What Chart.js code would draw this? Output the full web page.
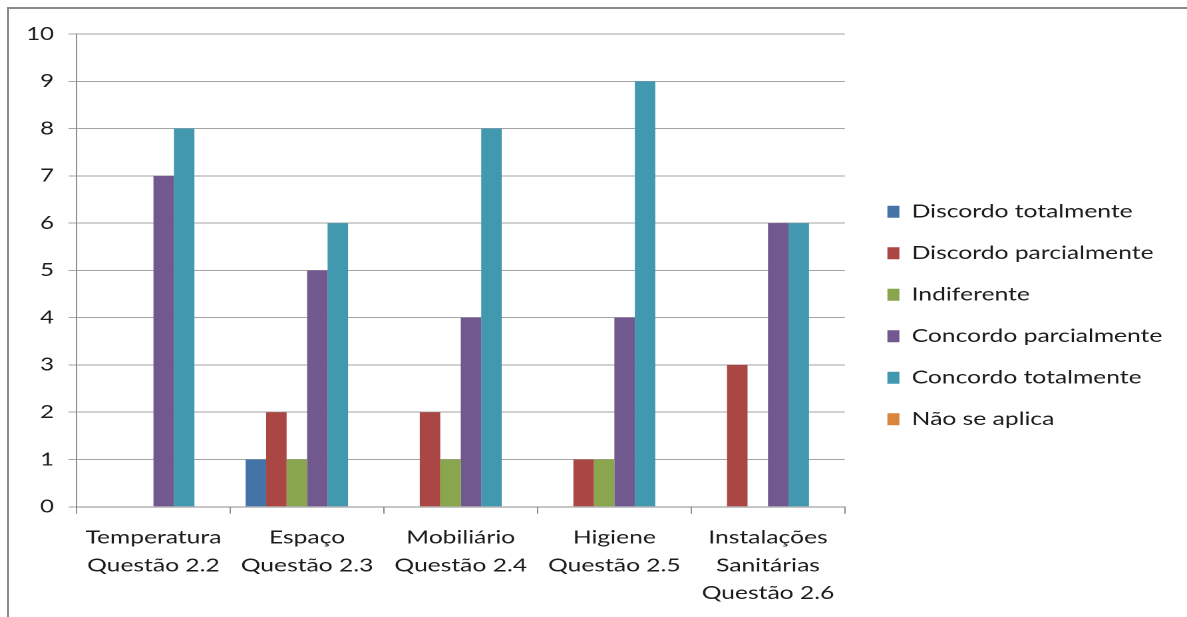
<!DOCTYPE html>
<html><head><meta charset="utf-8">
<script src="https://cdn.jsdelivr.net/npm/chart.js@4/dist/chart.umd.min.js"></script>
<style>
html,body{margin:0;padding:0;background:#fff;overflow:hidden;width:1187px;height:617px;}
#frame{position:absolute;left:7px;top:7px;width:1300px;height:800px;border:2px solid #8a8a8a;box-sizing:border-box;}
#wrap{position:absolute;left:0;top:0;width:920px;height:617px;transform:scaleX(1.3307);transform-origin:0 0;}
</style></head><body>
<div id="frame"></div>
<div id="wrap"><canvas id="c"></canvas></div>
<script>
const categories = [
  ['Temperatura', 'Questão 2.2'],
  ['Espaço', 'Questão 2.3'],
  ['Mobiliário', 'Questão 2.4'],
  ['Higiene', 'Questão 2.5'],
  ['Instalações', 'Sanitárias', 'Questão 2.6']
];
const seriesNames = ['Discordo totalmente', 'Discordo parcialmente', 'Indiferente', 'Concordo parcialmente', 'Concordo totalmente', 'Não se aplica'];
const discordoTotalmente = [0, 1, 0, 0, 0];
const discordoParcialmente = [0, 2, 2, 1, 3];
const indiferente = [0, 1, 1, 1, 0];
const concordoParcialmente = [7, 5, 4, 4, 6];
const concordoTotalmente = [8, 6, 8, 9, 6];
const naoSeAplica = [0, 0, 0, 0, 0];
const yTicks = [0, 1, 2, 3, 4, 5, 6, 7, 8, 9, 10];

const colors = ['#4572A7', '#AA4643', '#89A54E', '#71588F', '#4198AF', '#DB843D'];
const values = [discordoTotalmente, discordoParcialmente, indiferente, concordoParcialmente, concordoTotalmente, naoSeAplica];

const FONT = 'Lato';
const TXT = '#1c1c1c';

const legendShift = {
  id: 'legendShift',
  afterLayout(chart) {
    const lg = chart.legend;
    if (lg) { lg.top -= 10; lg.bottom -= 10; }
  }
};

new Chart(document.getElementById('c'), {
  type: 'bar',
  data: {
    labels: categories,
    datasets: seriesNames.map((n, i) => ({
      label: n,
      data: values[i],
      backgroundColor: colors[i],
      borderWidth: 0,
      categoryPercentage: 0.8,
      barPercentage: 1.0
    }))
  },
  plugins: [legendShift],
  options: {
    responsive: true,
    maintainAspectRatio: false,
    animation: false,
    devicePixelRatio: 2,
    layout: { padding: { left: 8.7, top: 34, bottom: 0, right: 36.5 } },
    plugins: {
      tooltip: { enabled: false },
      legend: {
        position: 'right',
        align: 'center',
        maxWidth: 320,
        labels: {
          boxWidth: 9,
          boxHeight: 12,
          padding: 23,
          color: TXT,
          font: { family: FONT, size: 18.5 }
        }
      }
    },
    scales: {
      x: {
        grid: { drawOnChartArea: false, drawTicks: true, tickLength: 7, color: '#8c8c8c', offset: true },
        border: { color: '#8c8c8c', width: 1 },
        ticks: {
          color: TXT, padding: 10, maxRotation: 0, autoSkip: false,
          font: { family: FONT, size: 18.5, lineHeight: 1.5 }
        }
      },
      y: {
        min: 0, max: 10,
        afterBuildTicks: s => { s.ticks = yTicks.map(v => ({ value: v })); },
        grid: { color: '#a3a3a3', tickLength: 6, drawTicks: true },
        border: { color: '#8c8c8c', width: 1 },
        ticks: {
          color: TXT, padding: 11,
          font: { family: FONT, size: 18 }
        }
      },
      gap: {
        type: 'linear',
        position: 'right',
        display: true,
        grid: { display: false },
        border: { display: false },
        ticks: { display: false },
        afterFit: s => { s.width = 9; }
      }
    }
  }
});
</script>
</body></html>
